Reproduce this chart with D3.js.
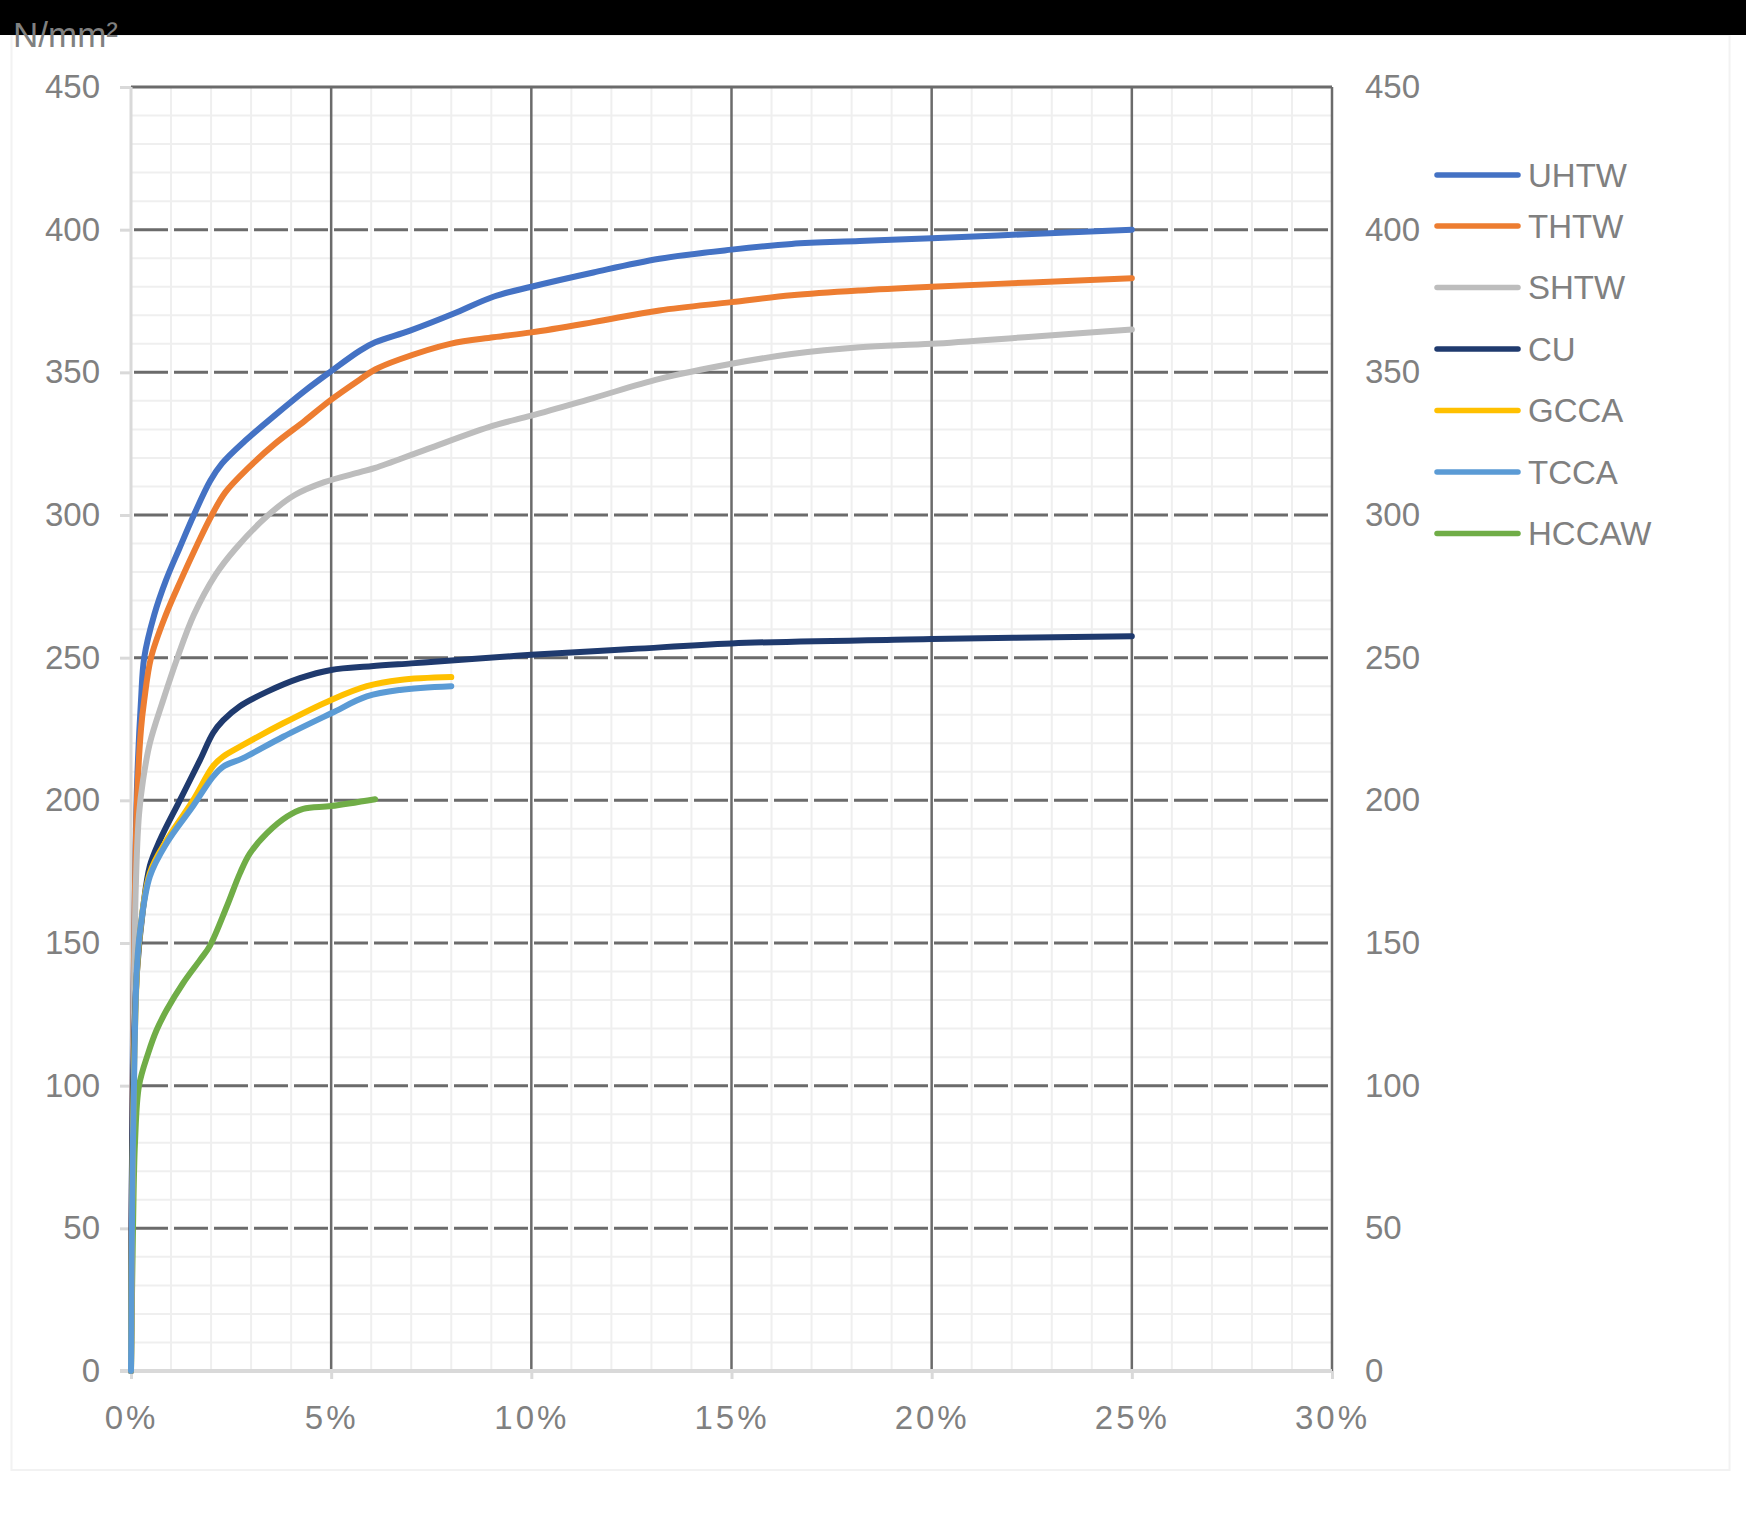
<!DOCTYPE html>
<html>
<head>
<meta charset="utf-8">
<script src="https://cdn.jsdelivr.net/npm/d3@7/dist/d3.min.js"></script>
<style>
  html, body { margin: 0; padding: 0; background: #ffffff; }
  svg { display: block; }
  text { font-family: "Liberation Sans", Arial, sans-serif; fill: #808080; }
</style>
</head>
<body>
<svg id="chart" width="1746" height="1538"></svg>
<script>
// ---------------- data ----------------
const seriesNames = ["UHTW", "THTW", "SHTW", "CU", "GCCA", "TCCA", "HCCAW"];
const seriesColors = ["#4472C4", "#ED7D31", "#BDBDBD", "#1F3A6E", "#FFC000", "#5B9BD5", "#70AD47"];

// strain (%) , stress (N/mm²)
const UHTW = [[0,0],[0.02,60],[0.05,120],[0.1,170],[0.15,205],[0.25,235],[0.33,250],[0.58,265],[0.87,277],[1.2,288],[1.57,300],[1.98,312],[2.27,318],[2.85,326],[3.6,335],[4.34,343.5],[4.96,350],[5.72,357.6],[6.1,360.5],[6.97,364.6],[8.05,370.5],[9.05,376.5],[10,380],[11.55,385],[13.2,389.8],[15,393],[16.5,395],[18.2,396],[20,397],[22.5,398.5],[25,400]];
const THTW = [[0,0],[0.03,80],[0.08,150],[0.15,200],[0.25,225],[0.33,235],[0.5,250],[0.87,265],[1.24,277],[1.65,289.5],[2.02,300],[2.36,308],[2.93,316.5],[3.6,325],[4.34,333],[4.96,340],[5.72,347.5],[6.1,351],[6.7,354.5],[7.97,360],[9.05,362.3],[10,364],[11.55,367.6],[13.2,371.7],[15,374.6],[16.5,377],[18.2,378.7],[20,380],[22.5,381.5],[25,383]];
const SHTW = [[0,0],[0.05,100],[0.12,170],[0.2,195],[0.3,207],[0.47,220],[0.8,235],[1.16,250],[1.57,265],[2.11,279],[2.6,288],[3.43,300],[4.09,307],[4.83,311.5],[5.72,315],[6.1,316.5],[7.38,323],[9.05,331.3],[10,334.8],[11.55,341],[13.2,347.7],[15,353],[16.5,356.4],[18.2,358.8],[20,360],[22.5,362.5],[25,365]];
const CU = [[0,0],[0.05,100],[0.15,140],[0.3,162],[0.47,177],[0.72,186],[1.22,200],[1.72,214],[2.05,223.6],[2.3,228],[2.72,233],[3.39,238],[4.22,242.8],[5,245.7],[6,247],[7,248],[8,249],[10,251],[12.5,253],[15,255],[20,256.5],[25,257.5]];
const GCCA = [[0,0],[0.03,60],[0.1,120],[0.2,150],[0.47,174.5],[0.89,186],[1.55,200],[2.05,212],[2.3,215.3],[2.8,219.4],[3.8,227],[5,235.2],[5.89,240],[6.72,242.2],[8,243.2]];
const TCCA = [[0,0],[0.03,60],[0.1,120],[0.15,141.7],[0.22,153.5],[0.47,173.3],[0.89,185],[1.55,198],[2.05,208.3],[2.3,211.8],[2.8,214.8],[3.8,222.3],[5,230.5],[5.89,236.4],[6.72,238.7],[8,240]];
const HCCAW = [[0,0],[0.05,50],[0.1,80],[0.2,100],[0.43,111.4],[0.64,119.5],[0.89,126.5],[1.3,135.9],[1.72,144],[1.97,149],[2.39,162.7],[2.72,174.4],[2.97,181.4],[3.39,188.4],[3.9,194.3],[4.3,197],[5,198],[6.1,200.4]];
const seriesData = [UHTW, THTW, SHTW, CU, GCCA, TCCA, HCCAW];

const xTicks = [0, 5, 10, 15, 20, 25, 30];
const xMinorTicks = d3.range(0, 31, 1);
const yTicks = [0, 50, 100, 150, 200, 250, 300, 350, 400, 450];
const yMinorTicks = d3.range(0, 451, 10);
const unitLabel = "N/mm²";

// ---------------- layout ----------------
(function () {
const svg = d3.select("#chart");
const W = 1746;
const pLeft = 131, pRight = 1332, pTop = 87, pBottom = 1371;
const x = d3.scaleLinear().domain([0, 30]).range([pLeft, pRight]);
const y = d3.scaleLinear().domain([0, 450]).range([pBottom, pTop]);

svg.append("rect").attr("x", 0).attr("y", 0).attr("width", W).attr("height", 1538).attr("fill", "#ffffff");
// faint chart-area border
svg.append("rect").attr("x", 11.5).attr("y", 35).attr("width", 1718).attr("height", 1435)
  .attr("fill", "none").attr("stroke", "#f2f2f2").attr("stroke-width", 2);
// black band on top
svg.append("rect").attr("x", 0).attr("y", 0).attr("width", W).attr("height", 35).attr("fill", "#000000");

const grid = svg.append("g");
// minor grid
grid.selectAll(".vminor").data(xMinorTicks.filter(d => d % 5 !== 0)).enter().append("line")
  .attr("x1", d => x(d)).attr("x2", d => x(d)).attr("y1", pTop).attr("y2", pBottom)
  .attr("stroke", "#efefef").attr("stroke-width", 2);
grid.selectAll(".hminor").data(yMinorTicks.filter(d => d % 50 !== 0)).enter().append("line")
  .attr("x1", pLeft).attr("x2", pRight).attr("y1", d => y(d)).attr("y2", d => y(d))
  .attr("stroke", "#efefef").attr("stroke-width", 2);
// major horizontal dashed
grid.selectAll(".hmajor").data(yTicks.filter(d => d > 0 && d < 450)).enter().append("line")
  .attr("x1", pLeft).attr("x2", pRight).attr("y1", d => y(d)).attr("y2", d => y(d))
  .attr("stroke", "#6b6b6b").attr("stroke-width", 3)
  .attr("stroke-dasharray", "34 6").attr("stroke-dashoffset", 37);
// top solid
grid.append("line").attr("x1", pLeft).attr("x2", pRight).attr("y1", y(450)).attr("y2", y(450))
  .attr("stroke", "#6b6b6b").attr("stroke-width", 3);
// major vertical solid
grid.selectAll(".vmajor").data(xTicks.filter(d => d > 0)).enter().append("line")
  .attr("x1", d => x(d)).attr("x2", d => x(d)).attr("y1", pTop).attr("y2", pBottom)
  .attr("stroke", "#6b6b6b").attr("stroke-width", 2.5);

// axes
const axisColor = "#d9d9d9";
const gLeft = svg.append("g").attr("transform", `translate(${pLeft},0)`)
  .call(d3.axisLeft(y).tickValues(yTicks).tickSize(11).tickPadding(20).tickFormat(d3.format("d")));
gLeft.select(".domain").remove();
gLeft.selectAll(".tick line").attr("stroke", axisColor).attr("stroke-width", 3);
gLeft.selectAll("text").attr("font-size", 33).attr("fill", "#808080")
  .style("font-family", "'Liberation Sans', Arial, sans-serif");

const gRight = svg.append("g").attr("transform", `translate(${pRight},0)`)
  .call(d3.axisRight(y).tickValues(yTicks).tickSize(0).tickPadding(33).tickFormat(d3.format("d")));
gRight.select(".domain").remove();
gRight.selectAll("text").attr("font-size", 33).attr("fill", "#808080")
  .style("font-family", "'Liberation Sans', Arial, sans-serif");

const gBottom = svg.append("g").attr("transform", `translate(0,${pBottom})`)
  .call(d3.axisBottom(x).tickValues(xTicks).tickSize(8).tickFormat(d => d + "%"));
gBottom.select(".domain").remove();
gBottom.selectAll(".tick line").attr("stroke", axisColor).attr("stroke-width", 3);
gBottom.selectAll("text").attr("font-size", 33).attr("fill", "#808080").attr("dy", null).attr("y", 58)
  .attr("letter-spacing", 3)
  .style("font-family", "'Liberation Sans', Arial, sans-serif");

// axis lines
svg.append("line").attr("x1", pLeft).attr("x2", pLeft).attr("y1", pTop).attr("y2", pBottom)
  .attr("stroke", axisColor).attr("stroke-width", 3);
svg.append("line").attr("x1", pLeft - 11).attr("x2", pRight).attr("y1", pBottom).attr("y2", pBottom)
  .attr("stroke", axisColor).attr("stroke-width", 4);

// series: HCCAW at the bottom, others in legend order
const drawOrder = [6, 0, 1, 2, 3, 4, 5];
const line = d3.line().x(d => x(d[0])).y(d => y(d[1])).curve(d3.curveCatmullRom.alpha(0.5));
const gSeries = svg.append("g");
drawOrder.forEach(i => {
  gSeries.append("path").datum(seriesData[i]).attr("d", line)
    .attr("fill", "none").attr("stroke", seriesColors[i]).attr("stroke-width", 6)
    .attr("stroke-linecap", "round").attr("stroke-linejoin", "round");
});

// legend
const legend = svg.append("g");
seriesNames.forEach((name, i) => {
  const ly = i === 0 ? 175 : 226 + (i - 1) * 61.5;
  legend.append("line").attr("x1", 1437).attr("x2", 1518).attr("y1", ly).attr("y2", ly)
    .attr("stroke", seriesColors[i]).attr("stroke-width", 5.5).attr("stroke-linecap", "round");
  legend.append("text").attr("x", 1528).attr("y", ly).attr("dy", "0.35em")
    .attr("font-size", 33).text(name);
});

// unit label
svg.append("text").attr("x", 13).attr("y", 47).attr("font-size", 35).attr("fill", "#808080").text(unitLabel);
})();
</script>
</body>
</html>
